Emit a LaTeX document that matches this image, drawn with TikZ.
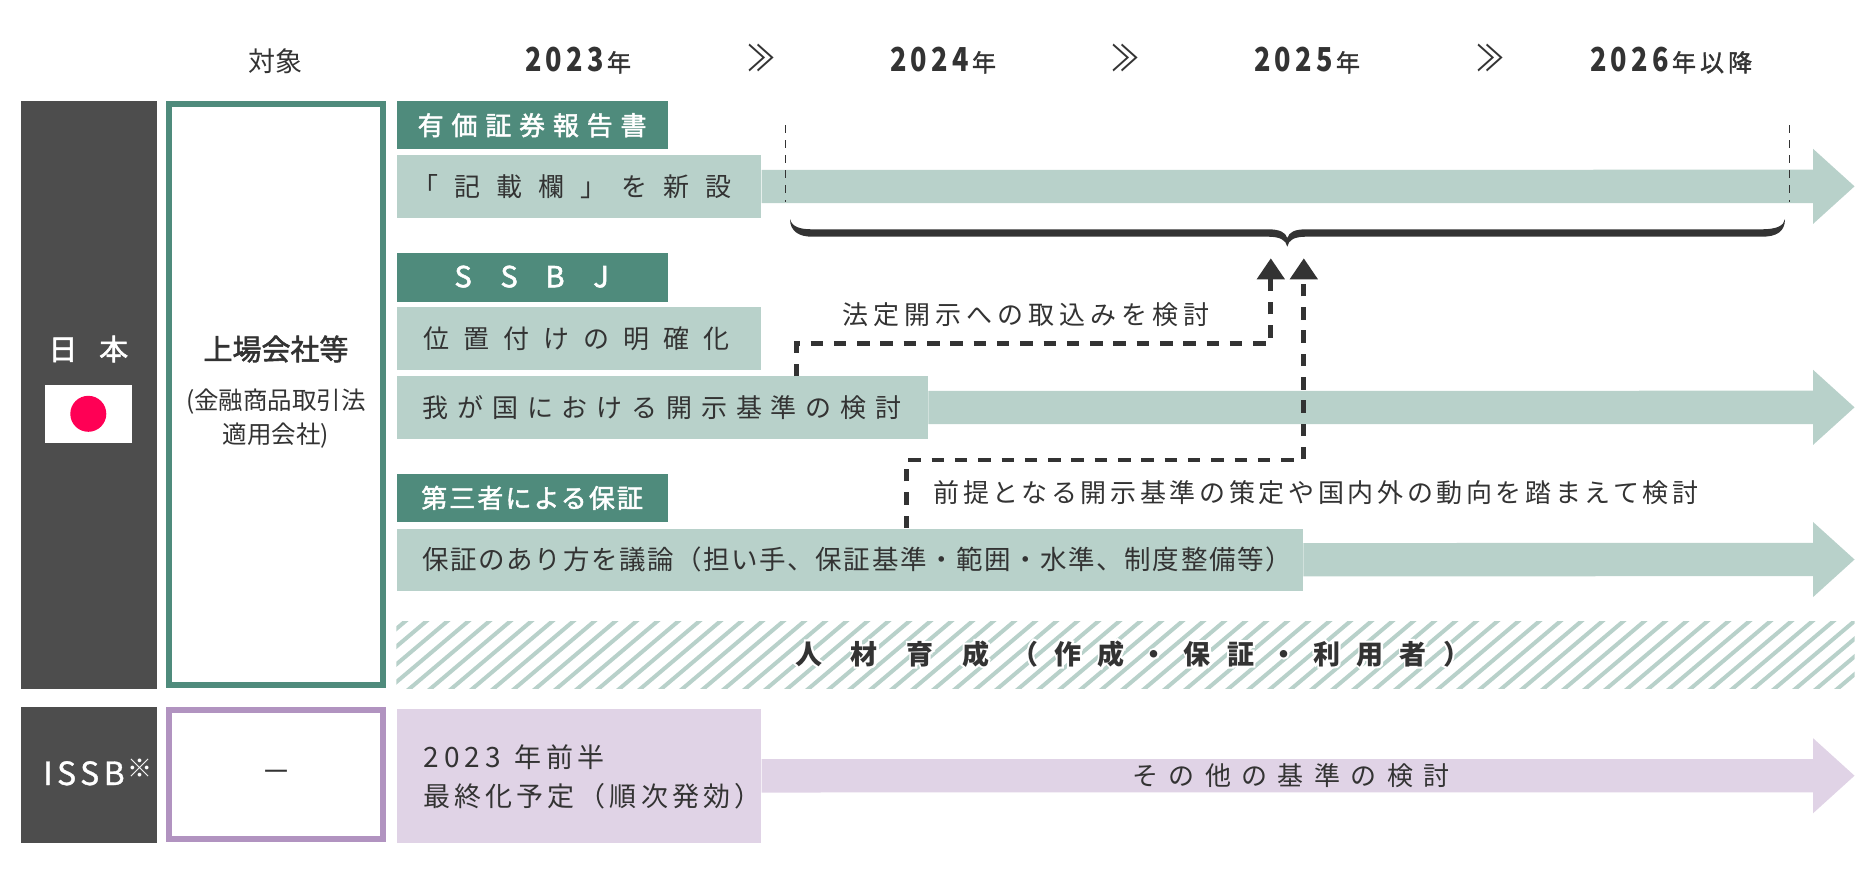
\documentclass[tikz,border=0pt]{standalone}
\usepackage{fontspec}
\usetikzlibrary{arrows.meta}
\setmainfont{Noto Sans CJK JP}
\definecolor{ink}{HTML}{333333}
\definecolor{bar}{HTML}{4D4D4D}
\definecolor{teal}{HTML}{4F8B7C}
\definecolor{mint}{HTML}{B8D1CA}
\definecolor{lilac}{HTML}{E0D3E6}
\definecolor{plum}{HTML}{B193C0}
\definecolor{rising}{HTML}{FF0055}
\newcommand{\T}[3]{{\fontsize{#1}{#1}\selectfont\addfontfeature{LetterSpace=#2}#3}}
\newcommand{\TB}[3]{{\fontsize{#1}{#1}\selectfont\addfontfeature{FakeBold=1.8,LetterSpace=#2}#3}}
\newcommand{\Dg}[1]{{\bfseries\fontsize{33}{33}\selectfont\addfontfeature{FakeStretch=0.82,LetterSpace=13}#1}}
\newcommand{\Ys}[1]{{\fontsize{24}{24}\selectfont\addfontfeature{FakeBold=1.5,LetterSpace=17}#1}}
\newcommand{\Sl}[1]{\makebox[46pt]{#1}}
\newcommand{\Chev}{{\fontsize{36}{36}\selectfont\addfontfeature{FakeStretch=0.78}≫}}
\tikzset{
  x=1pt,y=-1pt,
  fillbox/.style n args={3}{rectangle,anchor=north west,inner sep=0pt,fill=#1,minimum width=#2,minimum height=#3,
     text width=#2,text height=22.9pt,text depth=3.1pt},
  hdr/.style n args={2}{fillbox={teal}{#1}{#2},align=center,text=white},
  body/.style n args={3}{fillbox={#1}{#2}{#3},align=left,text=ink},
  frm/.style n args={3}{rectangle,anchor=north west,inner sep=0pt,draw=#1,line width=6pt,fill=white,minimum width=#2,minimum height=#3},
  lab/.style={inner sep=0pt,text=ink},
  flow/.style={draw=#1,line width=33.3pt,-{Triangle[length=41.7pt,width=72.5pt]}},
  flow/.default=mint,
  guide/.style={draw=ink,line width=0.8pt,dash pattern=on 8pt off 7pt},
  link/.style={draw=ink,line width=4.8pt,dash pattern=on 12.5pt off 10.8pt,-{Triangle[length=21pt,width=27pt]}},
}
\begin{document}
\begin{tikzpicture}
\useasboundingbox (0,0) rectangle (1875,886);
% heading row
\node[lab] (target) at (275,61) {\T{27}{0}{対象}};
\node[lab,anchor=base west] (y23) at (525,71.5) {\Dg{2023}\hspace{3pt}\Ys{年}};
\node[lab,anchor=base west] (y24) at (890,71.5) {\Dg{2024}\hspace{3pt}\Ys{年}};
\node[lab,anchor=base west] (y25) at (1254,71.5) {\Dg{2025}\hspace{3pt}\Ys{年}};
\node[lab,anchor=base west] (y26) at (1590,71.5) {\Dg{2026}\hspace{3pt}\Ys{年以降}};
\node[lab] (c1) at (761.5,57.5) {\Chev};
\node[lab] (c2) at (1126,57.5) {\Chev};
\node[lab] (c3) at (1490.5,57.5) {\Chev};
% left bars
\node[fillbox={bar}{136.2pt}{587.3pt},text height=0pt,text depth=0pt] (jpbar) at (20.4,101) {};
\node[fillbox={bar}{136.2pt}{135.3pt},text height=0pt,text depth=0pt] (issbbar) at (20.4,707) {};
\node[text=white,inner sep=0pt] (jp) at (88.3,349) {\TB{29}{75}{日本}};
\node[rectangle,fill=white,minimum width=86.7pt,minimum height=57.7pt,inner sep=0pt] (flag) at (88.3,413.8) {};
\fill[rising] (flag.center) ellipse [x radius=18,y radius=18];
\node[text=white,inner sep=0pt,anchor=base west] (issb) at (43,785) {{\fontsize{32}{32}\selectfont\addfontfeature{FakeBold=1,LetterSpace=14}ISSB}};
\node[text=white,inner sep=0pt] (note) at (139.5,768.5) {\T{25}{0}{※}};
% target frames
\node[frm={teal}{213.4pt}{581.3pt}] (listed) at (166.3,101) {};
\node[frm={plum}{213.4pt}{129.3pt}] (none) at (166.3,707) {};
\node[lab] (l1) at (276,349) {\TB{29}{0}{上場会社等}};
\node[lab,align=center,font=\fontsize{24.5}{34}\selectfont] (l2) at (276,419) {(金融商品取引法\\適用会社)};
\node[lab] (dash) at (276,776) {\T{30}{0}{－}};
% first row
\node[hdr={271pt}{48pt}] (h1) at (396.4,101) {\TB{26}{30}{有価証券報告書}};
\node[body={mint}{364.8pt}{62.7pt}] (b1) at (396.4,155) {\hspace*{16pt}\T{26}{61}{「記載欄」を新設}};
\coordinate (e1) at (1854.7,186.35);
\draw[flow] (b1.east) -- (e1);
\coordinate (g1a) at (785.2,125); \coordinate (g1b) at (785.2,202);
\coordinate (g2a) at (1789.5,125); \coordinate (g2b) at (1789.5,202);
\draw[guide] (g1a) -- (g1b);
\draw[guide] (g2a) -- (g2b);
\fill[ink] (790,219) .. controls (790,232) and (800,236.7) .. (812,236.7) -- (1268,236.7)
  .. controls (1280,236.7) and (1286,240) .. (1287.3,246.7)
  .. controls (1288.6,240) and (1294,236.7) .. (1306,236.7) -- (1762,236.7)
  .. controls (1776,236.7) and (1785,232) .. (1785,219)
  .. controls (1784,226) and (1776,229.3) .. (1762,229.3) -- (1306,229.3)
  .. controls (1295,229.3) and (1289,232) .. (1287.3,238)
  .. controls (1285.6,232) and (1279,229.3) .. (1268,229.3) -- (812,229.3)
  .. controls (800,229.3) and (792,227) .. (790,219) -- cycle;
% second row
\node[hdr={271pt}{48.3pt}] (h2) at (396.4,253) {\TB{29}{0}{\Sl{S}\Sl{S}\Sl{B}\Sl{J}}};
\node[body={mint}{364.8pt}{62.7pt}] (b2) at (396.4,307) {\hspace*{27pt}\T{26}{54}{位置付けの明確化}};
\node[body={mint}{531.6pt}{62.7pt}] (b3) at (396.4,376) {\hspace*{26pt}\T{26}{34}{我が国における開示基準の検討}};
\coordinate (e3) at (1854.7,407.35);
\draw[flow] (b3.east) -- (e3);
\node[lab] (t1) at (1026,315) {\T{26}{19.5}{法定開示への取込みを検討}};
% third row
\node[hdr={271pt}{48pt}] (h3) at (396.4,473.7) {\TB{26}{8}{第三者による保証}};
\node[body={mint}{906.6pt}{62.4pt}] (b4) at (396.4,528.3) {\hspace*{26pt}\T{26.5}{6}{保証のあり方を議論（担い手、保証基準・範囲・水準、制度整備等）}};
\coordinate (e4) at (1854.7,559.5);
\draw[flow] (b4.east) -- (e4);
\node[lab] (t2) at (1316,492.7) {\T{26}{14}{前提となる開示基準の策定や国内外の動向を踏まえて検討}};
% dashed links
\coordinate (s1) at (796.6,376);
\coordinate (m1a) at (796.6,343.3); \coordinate (m1b) at (1270.8,343.3);
\coordinate (a1) at (1270.8,258.3);
\draw[link] (s1) -- (m1a) -- (m1b) -- (a1);
\coordinate (s2) at (906.4,528);
\coordinate (m2a) at (906.4,460); \coordinate (m2b) at (1303.8,460);
\coordinate (a2) at (1303.8,258.3);
\draw[link] (s2) -- (m2a) -- (m2b) -- (a2);
% hatch band
\begin{scope}
\clip (396.4,621.5) rectangle (1854.7,688.3);
\foreach \k in {0,...,75} {
  \draw[mint,line width=4pt] ({405+21*\k-80*1.183},{621.5+80}) -- ({405+21*\k+10*1.183},{621.5-10});
}
\end{scope}
\node[inner sep=0pt,text=ink,font=\bfseries,anchor=base west] (hr) at (795,664) {%
  \rlap{\color{white}\addfontfeature{FakeBold=15}\T{27}{106}{人材育成}\hspace{22pt}\T{27}{60}{（作成・保証・利用者）}}%
  \T{27}{106}{人材育成}\hspace{22pt}\T{27}{60}{（作成・保証・利用者）}};
% ISSB row
\node[body={lilac}{364.8pt}{133.3pt},text height=0pt,text depth=0pt] (b5) at (396.4,709) {};
\node[lab,align=left,anchor=west] (b5t) at (423.5,777) {\T{28}{18}{2023}\hspace{14pt}\T{27}{15}{年前半}\\[13pt]\T{27}{15}{最終化予定（順次発効）}};
\coordinate (e5) at (1854.7,775.7);
\draw[flow=lilac] (b5.east) -- (e5);
\node[lab] (t5) at (1291,775.7) {\T{26}{40}{その他の基準の検討}};
\end{tikzpicture}
\end{document}
